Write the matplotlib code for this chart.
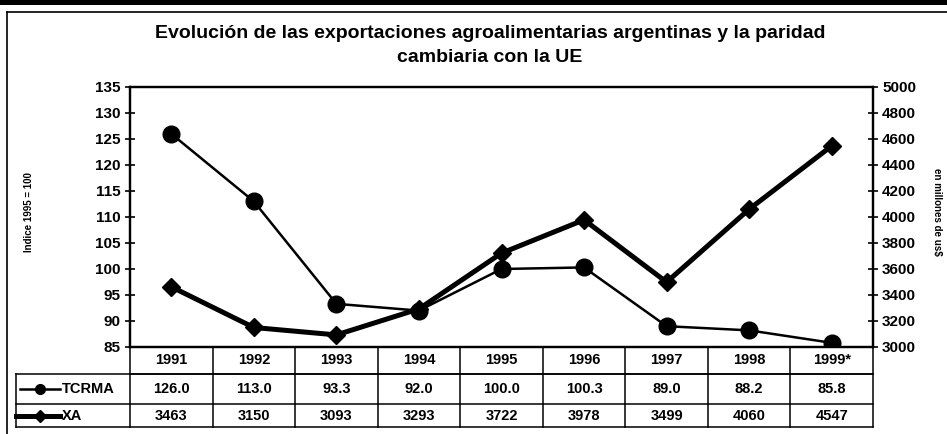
import matplotlib

matplotlib.use("Agg")
import matplotlib.pyplot as plt
import numpy as np
from matplotlib.lines import Line2D
from matplotlib.patches import Rectangle
from matplotlib.transforms import blended_transform_factory

plt.rcParams["font.family"] = ["Liberation Sans", "DejaVu Sans"]
plt.rcParams["font.weight"] = "bold"

# ── data ──────────────────────────────────────────
years = ["1991", "1992", "1993", "1994", "1995", "1996", "1997", "1998", "1999*"]
tcrma = [126.0, 113.0, 93.3, 92.0, 100.0, 100.3, 89.0, 88.2, 85.8]
xa = [3463, 3150, 3093, 3293, 3722, 3978, 3499, 4060, 4547]
left_ticks = list(range(85, 136, 5))
right_ticks = list(range(3000, 5001, 200))

W, H = 947, 434
AX_L, AX_R, AX_T, AX_B = 130, 873, 87, 347


def fx(px):
    return px / W


def fy(py):
    return 1 - py / H


fig = plt.figure(figsize=(W / 100, H / 100), dpi=100)
fig.patch.set_facecolor("white")

# scan frame: black band on top, thin frame lines
fig.add_artist(Rectangle((0, fy(5)), 1, 5 / H, transform=fig.transFigure,
                         color="black", lw=0))
fig.add_artist(Line2D([fx(7), 1], [fy(12), fy(12)], transform=fig.transFigure,
                      color="black", lw=1.2))
fig.add_artist(Line2D([fx(7), fx(7)], [fy(12), 0], transform=fig.transFigure,
                      color="black", lw=1.2))

ax = fig.add_axes([fx(AX_L), fy(AX_B), (AX_R - AX_L) / W, (AX_B - AX_T) / H])
x = np.arange(len(years))
ax.plot(x, tcrma, color="black", lw=1.8, marker="o", ms=12, zorder=3)
ax.set_ylim(85, 135)
ax.set_yticks(left_ticks)
ax.set_xlim(-0.5, len(years) - 0.5)
ax.set_xticks([])

ax2 = ax.twinx()
ax2.plot(x, xa, color="black", lw=3.6, marker="D", ms=9, zorder=3)
ax2.set_ylim(3000, 5000)
ax2.set_yticks(right_ticks)

for a in (ax, ax2):
    for s in a.spines.values():
        s.set_linewidth(1.6)
    a.tick_params(axis="y", direction="inout", length=7, width=1.2,
                  labelsize=11, pad=3)
    for lbl in a.get_yticklabels():
        lbl.set_fontweight("bold")
ax.patch.set_alpha(0)

aw = AX_R - AX_L
ax.set_ylabel("Indice 1995 = 100", fontsize=7, fontweight="bold")
ax.yaxis.set_label_coords((34 - AX_L) / aw, 0.52)
ax2.set_ylabel("en millones de us$", fontsize=7, fontweight="bold", rotation=270,
               va="center")
ax2.yaxis.set_label_coords((937 - AX_L) / aw, 0.52)

fig.text(fx(490), fy(33), "Evolución de las exportaciones agroalimentarias argentinas y la paridad",
         ha="center", va="center", fontsize=14, fontweight="bold")
fig.text(fx(490), fy(57), "cambiaria con la UE",
         ha="center", va="center", fontsize=14, fontweight="bold")

# ── data table below the axis ─────────────────────
tr = blended_transform_factory(ax.transData, ax.transAxes)
ax_h = AX_B - AX_T
y_hdr = -(374 - AX_B) / ax_h
y_r1 = -(404 - AX_B) / ax_h
y_r2 = -(427 - AX_B) / ax_h
col_px = aw / len(years)
x_left = -0.5 + (16 - AX_L) / col_px
x_right = len(years) - 0.5

kw = dict(transform=tr, color="black", lw=1.1, clip_on=False)
ax.add_line(Line2D([-0.5, x_right], [y_hdr, y_hdr], **kw))
ax.add_line(Line2D([x_left, x_right], [y_hdr, y_hdr], **kw))
ax.add_line(Line2D([x_left, x_right], [y_r1, y_r1], **kw))
ax.add_line(Line2D([x_left, x_right], [y_r2, y_r2], **kw))
ax.add_line(Line2D([x_left, x_left], [y_hdr, y_r2], **kw))
for i in range(len(years) + 1):
    ax.add_line(Line2D([i - 0.5, i - 0.5], [0, y_r2], **kw))

tkw = dict(transform=tr, ha="center", va="center", fontsize=10.5,
           fontweight="bold", clip_on=False)
for i, yr in enumerate(years):
    ax.text(i, y_hdr / 2, yr, **tkw)
    ax.text(i, (y_hdr + y_r1) / 2, f"{tcrma[i]:.1f}", **tkw)
    ax.text(i, (y_r1 + y_r2) / 2, f"{xa[i]}", **tkw)

# legend keys inside the row-label column
lx0 = x_left + 4 / col_px
lmid = x_left + 24 / col_px
lx1 = x_left + 44 / col_px
ym1 = (y_hdr + y_r1) / 2
ym2 = (y_r1 + y_r2) / 2
ax.add_line(Line2D([lx0, lx1], [ym1, ym1], transform=tr, color="black", lw=1.8,
                   clip_on=False))
ax.add_line(Line2D([lmid], [ym1], transform=tr, color="black",
                   marker="o", ms=7, clip_on=False))
ax.add_line(Line2D([x_left, lx1], [ym2, ym2], transform=tr, color="black", lw=3.6,
                   clip_on=False))
ax.add_line(Line2D([lmid], [ym2], transform=tr, color="black",
                   marker="D", ms=6, clip_on=False))
ax.text(lx1 + 2 / col_px, ym1, "TCRMA", transform=tr, ha="left", va="center",
        fontsize=10.5, fontweight="bold", clip_on=False)
ax.text(lx1 + 2 / col_px, ym2, "XA", transform=tr, ha="left", va="center",
        fontsize=10.5, fontweight="bold", clip_on=False)

fig.savefig("out.png", dpi=100)
